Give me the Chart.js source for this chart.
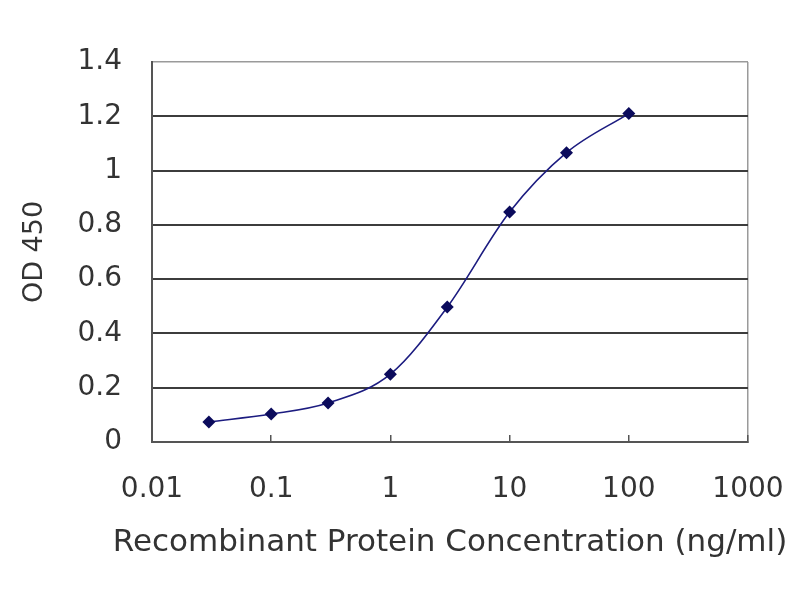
<!DOCTYPE html>
<html>
<head>
<meta charset="utf-8">
<script src="https://cdn.jsdelivr.net/npm/chart.js@4.4.1/dist/chart.umd.min.js"></script>
<style>
  html, body { margin: 0; padding: 0; background: #fff; }
  #wrap { width: 800px; height: 600px; }
</style>
</head>
<body>
<div id="wrap"><canvas id="chartOD"></canvas></div>
<script>
// concentraciones (ng/ml) y lecturas OD 450
const concentraciones = [0.03, 0.1, 0.3, 1, 3, 10, 30, 100];
const valoresOD = [0.074, 0.103, 0.144, 0.25, 0.497, 0.847, 1.066, 1.21];
const ticksX = [0.01, 0.1, 1, 10, 100, 1000];
const ticksY = [0, 0.2, 0.4, 0.6, 0.8, 1, 1.2, 1.4];
const tituloX = 'Recombinant Protein Concentration (ng/ml)';

const fuente = 'DejaVu Sans, Arial, sans-serif';

// el titulo del eje X es mas ancho que el area del grafico, se dibuja aparte
const pluginTituloX = {
    id: 'tituloX',
    afterDraw(chart) {
        const { ctx, chartArea } = chart;
        ctx.save();
        ctx.font = '31px ' + fuente;
        ctx.fillStyle = '#333';
        ctx.textAlign = 'center';
        ctx.textBaseline = 'middle';
        ctx.fillText(tituloX, (chartArea.left + chartArea.right) / 2, chartArea.bottom + 101);
        ctx.restore();
    }
};

document.addEventListener('DOMContentLoaded', () => {
    new Chart(document.getElementById('chartOD'), {
        type: 'line',
        data: {
            datasets: [{
                data: concentraciones.map((c, i) => ({ x: c, y: valoresOD[i] })),
                borderColor: '#1c1c80',
                borderWidth: 1.6,
                backgroundColor: '#0b0b5c',
                pointStyle: 'rectRot',
                pointRadius: 6.5,
                pointBorderWidth: 0,
                cubicInterpolationMode: 'monotone',
                fill: false
            }]
        },
        plugins: [pluginTituloX],
        options: {
            responsive: true,
            maintainAspectRatio: false,
            animation: false,
            layout: { padding: { left: 0, right: 52, top: 62, bottom: 0 } },
            plugins: { legend: { display: false }, tooltip: { enabled: false } },
            scales: {
                x: {
                    type: 'logarithmic',
                    min: 0.01,
                    max: 1000,
                    afterBuildTicks: s => { s.ticks = ticksX.map(v => ({ value: v })); },
                    afterFit: s => { s.height = 158; s.paddingLeft = 0; s.paddingRight = 0; },
                    ticks: {
                        color: '#333',
                        font: { family: fuente, size: 28 },
                        padding: 38,
                        autoSkip: false,
                        maxRotation: 0,
                        callback: v => String(v)
                    },
                    grid: {
                        drawOnChartArea: true,
                        color: c => (c.tick && c.tick.value === 1000) ? '#9a9a9a' : 'rgba(0,0,0,0)',
                        tickColor: '#555',
                        tickLength: -7,
                        lineWidth: 1.5
                    },
                    border: { color: '#555', width: 2 },
                    title: { display: false }
                },
                y: {
                    min: 0,
                    max: 1.4,
                    afterBuildTicks: s => { s.ticks = ticksY.map(v => ({ value: v })); },
                    afterFit: s => { s.width = 152; },
                    ticks: {
                        color: '#333',
                        font: { family: fuente, size: 28 },
                        padding: 30,
                        callback: v => String(+v.toFixed(1))
                    },
                    grid: {
                        drawTicks: false,
                        color: c => (c.tick && c.tick.value === 1.4) ? '#9a9a9a' : '#3c3c3c',
                        lineWidth: c => (c.tick && c.tick.value === 1.4) ? 1.5 : 2
                    },
                    border: { color: '#555', width: 2 },
                    title: {
                        display: true,
                        text: 'OD 450',
                        color: '#333',
                        font: { family: fuente, size: 27 },
                        padding: { top: 19 }
                    }
                }
            }
        }
    });
});
</script>
</body>
</html>
